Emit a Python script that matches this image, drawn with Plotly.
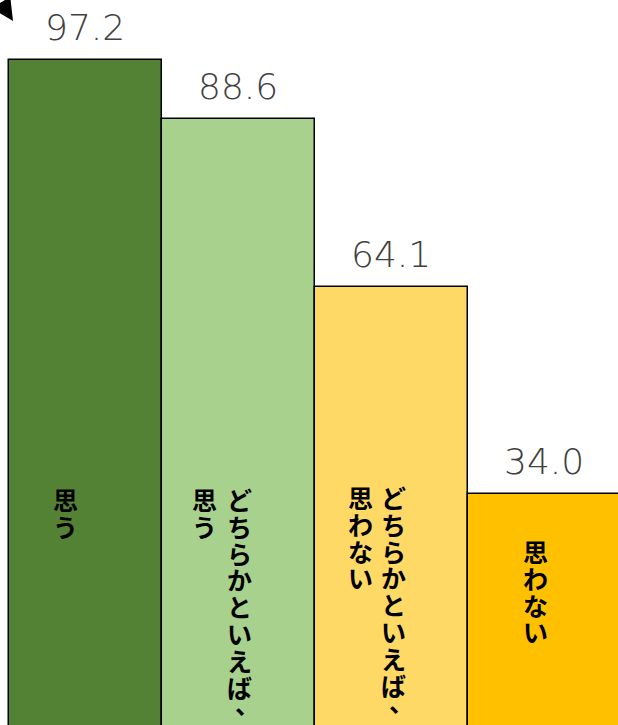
import plotly.graph_objects as go

# Data
categories = ["思う", "どちらかといえば、思う", "どちらかといえば、思わない", "思わない"]
values = [97.2, 88.6, 64.1, 34.0]
value_labels = ["97.2", "88.6", "64.1", "34.0"]

# Style
bar_colors = ["#548235", "#A9D18E", "#FFD966", "#FFC000"]
W, H = 618, 725
jp_font = "Noto Sans CJK JP"

# vertical label layout (pixel offsets from bar centre, right column first)
col_offsets = [[-20], [1, -34], [2, -31], [-9]]
text_top_px = [487, 487, 485, 539]
char_pitch = 26.8
char_size = 25

fig = go.Figure()
fig.add_trace(go.Bar(
    x=list(range(len(categories))),
    y=values,
    marker=dict(color=bar_colors, line=dict(color="black", width=1.5)),
    hoverinfo="skip",
))

annotations = []
# value labels above bars
for i, (v, lab) in enumerate(zip(values, value_labels)):
    annotations.append(dict(
        x=i, y=v, xref="x", yref="y", text=lab, showarrow=False,
        xshift=-1, yanchor="middle", yshift=33,
        font=dict(family="DejaVu Sans", size=36, color="#404040", weight=200),
    ))

# vertical Japanese labels inside bars, one character per annotation
for i, cat in enumerate(categories):
    if "、" in cat:
        head, tail = cat.split("、", 1)
        cols = [head + "、", tail]
    else:
        cols = [cat]
    for c, col in enumerate(cols):
        for k, ch in enumerate(col):
            py = text_top_px[i] + 12 + k * char_pitch
            dx, dy = (8, 10) if ch == "、" else (0, 0)
            annotations.append(dict(
                x=i, xref="x", xshift=col_offsets[i][c] + dx,
                y=1 - py / H, yref="paper", yshift=dy,
                text=ch, showarrow=False, xanchor="center", yanchor="middle",
                font=dict(family=jp_font, size=char_size, color="black", weight="bold"),
            ))

# stray arrow at the top-left corner
annotations.append(dict(
    x=13 / W, y=1 - 21 / H, xref="paper", yref="paper", text="",
    showarrow=True, ax=-30, ay=-20, arrowhead=2, arrowsize=2.2,
    arrowwidth=2, arrowcolor="black",
))

fig.update_layout(
    width=W, height=H,
    margin=dict(l=0, r=0, t=0, b=0),
    paper_bgcolor="white", plot_bgcolor="white",
    bargap=0, showlegend=False,
    xaxis=dict(range=[-0.559, 3.480], visible=False, fixedrange=True),
    yaxis=dict(range=[0.36, 105.94], visible=False, fixedrange=True),
    annotations=annotations,
)

fig.write_html(
    "out.html",
    config={"displayModeBar": False},
    post_script="document.body.style.margin='0';document.body.style.overflow='hidden';",
)
